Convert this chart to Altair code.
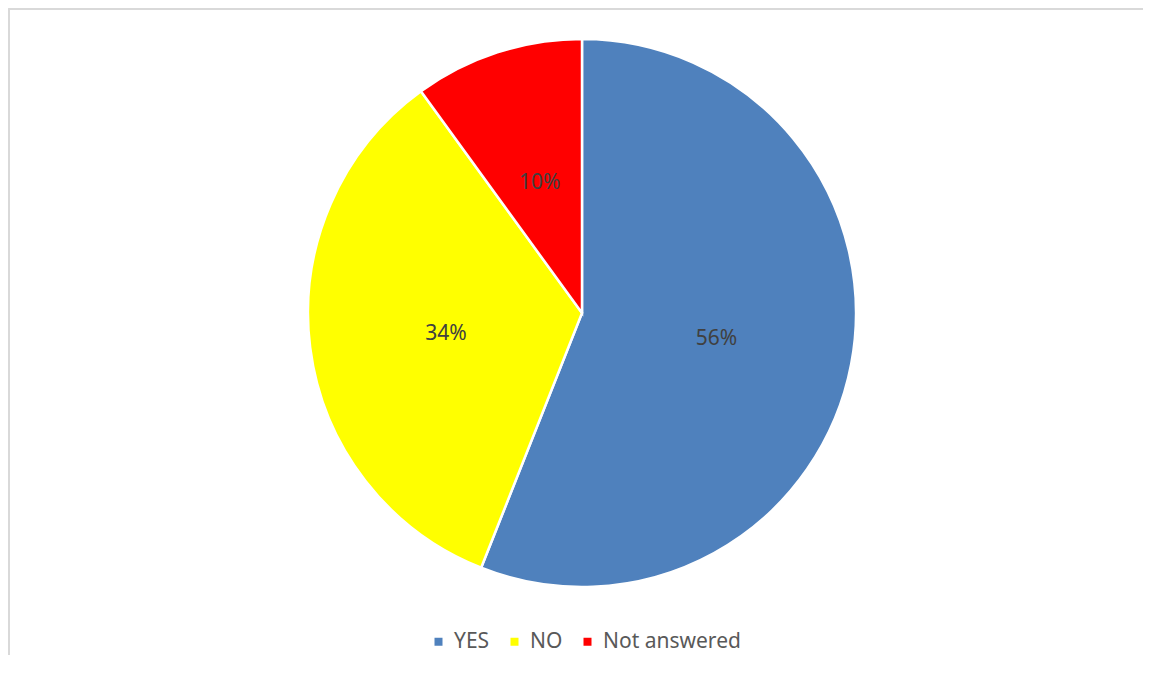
import altair as alt
import pandas as pd

categories = ["YES", "NO", "Not answered"]
values = [56, 34, 10]
labels = ["56%", "34%", "10%"]
colors = ["#4f81bd", "#ffff00", "#ff0000"]

df = pd.DataFrame({"answer": categories, "value": values, "label": labels,
                   "order": list(range(len(categories)))})

W, H = 1132, 645
CX, CY = 571, 303
R = 274

theta_scale = alt.Scale(domain=[0, 100], range=[0, 6.283185307179586])

base = alt.Chart(df).transform_window(
    cum_end="sum(value)", sort=[alt.SortField("order")]
).transform_calculate(
    cum_start="datum.cum_end - datum.value",
    mid="datum.cum_end - datum.value / 2",
)

pie = base.mark_arc(radius=R, stroke="white", strokeWidth=2.5).encode(
    x=alt.value(CX), y=alt.value(CY),
    theta=alt.Theta("cum_start:Q", scale=theta_scale),
    theta2="cum_end:Q",
    color=alt.Color(
        "answer:N",
        scale=alt.Scale(domain=categories, range=colors),
        sort=categories,
        legend=alt.Legend(
            title=None, orient="none", direction="horizontal",
            legendX=417, legendY=621,
            symbolType="square", symbolSize=64, symbolStrokeWidth=0,
            labelFontSize=21, labelColor="#595959", labelFont="Noto Sans",
            columnPadding=14, symbolOffset=0, labelOffset=5,
        ),
    ),
)

txt_main = base.transform_filter(alt.datum.answer != "NO").mark_text(
    radius=137, fontSize=21, font="Noto Sans", color="#404040"
).encode(
    x=alt.value(CX), y=alt.value(CY),
    theta=alt.Theta("mid:Q", scale=theta_scale),
    text="label:N",
)

txt_no = base.transform_filter(alt.datum.answer == "NO").mark_text(
    radius=137, dy=4, fontSize=21, font="Noto Sans", color="#404040"
).encode(
    x=alt.value(CX), y=alt.value(CY),
    theta=alt.Theta("mid:Q", scale=theta_scale),
    text="label:N",
)

border = alt.Chart(df).mark_rect(
    fill="white", fillOpacity=0, stroke="#d9d9d9", strokeWidth=1.5
).encode(
    x=alt.value(-2), x2=alt.value(W + 40),
    y=alt.value(-1), y2=alt.value(H + 60),
)

chart = alt.layer(border, pie, txt_main, txt_no).properties(
    width=W, height=H,
    autosize=alt.AutoSizeParams(type="none"),
    padding={"left": 3, "top": 2, "right": 0, "bottom": 0},
).configure_view(stroke=None)

chart.save("out.html", embed_options={"renderer": "svg", "actions": False})
